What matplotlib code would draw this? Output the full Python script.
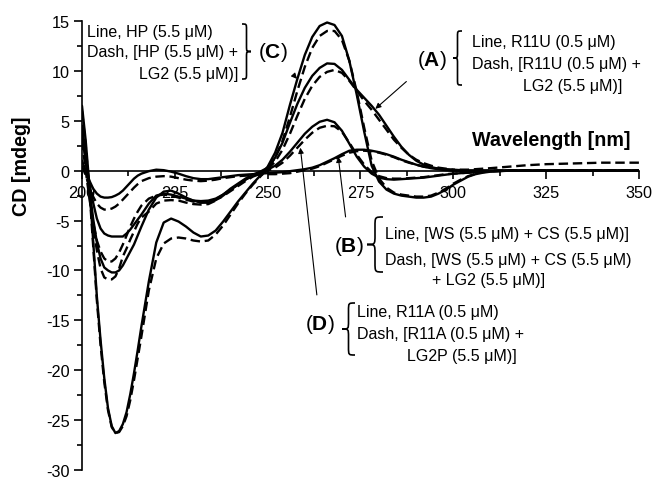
import numpy as np
import matplotlib
matplotlib.use('Agg')
import matplotlib.pyplot as plt
from matplotlib.path import Path
from matplotlib.patches import PathPatch
from matplotlib.ticker import MultipleLocator

plt.rcParams['font.family'] = ['Liberation Sans', 'DejaVu Sans']
plt.rcParams['axes.unicode_minus'] = False
plt.rcParams['mathtext.fontset'] = 'custom'
plt.rcParams['mathtext.rm'] = 'Liberation Sans'
plt.rcParams['mathtext.bf'] = 'Liberation Sans:bold'

# wavelength grid [nm]
wl = ([200, 201, 202, 203, 204, 205, 206, 207, 208, 209, 210, 211, 212, 213, 214, 215, 216]
      + list(range(218, 311, 2)) + [315, 320, 325, 330, 335, 340, 345, 350])

# (C) HP
hp_line = [6.5, 3.0, -1.5, -7.0, -12.6, -17.0, -20.8, -23.8, -25.6, -26.3, -26.1, -25.4, -24.2, -22.4, -20.3, -18.0, -15.6,
           -11.1, -7.2, -5.2, -4.8, -5.1, -5.6, -6.2, -6.6, -6.5, -6.0, -5.1, -4.1, -3.1, -2.2, -1.3, -0.5,
           0.4, 1.8, 3.8, 6.6, 9.2, 11.6, 13.4, 14.5, 14.85, 14.6, 13.5, 11.0, 7.6, 3.9, 0.5, -1.1,
           -1.9, -2.3, -2.5, -2.6, -2.7, -2.7, -2.6, -2.3, -1.9, -1.4, -1.0, -0.6, -0.35, -0.2, -0.1,
           0, 0, 0, 0, 0, 0, 0, 0]
hp_dash = [6.0, 2.5, -2.0, -7.5, -13.0, -17.5, -21.2, -24.0, -25.7, -26.3, -26.2, -25.6, -24.6, -23.0, -21.0, -18.8, -16.6,
           -12.0, -8.8, -7.3, -6.8, -6.7, -6.8, -7.0, -7.1, -7.0, -6.4, -5.5, -4.4, -3.3, -2.3, -1.4, -0.6,
           0.2, 1.3, 3.0, 5.4, 8.0, 10.4, 12.3, 13.5, 14.0, 14.0, 13.1, 11.0, 7.9, 4.3, 1.0, -0.8,
           -1.7, -2.2, -2.4, -2.5, -2.6, -2.6, -2.5, -2.2, -1.8, -1.3, -0.9, -0.55, -0.3, -0.15, -0.05,
           0, 0, 0, 0, 0, 0, 0, 0]

# (A) R11U
r11u_line = [4.5, 1.5, -1.8, -4.8, -7.2, -8.8, -9.7, -10.0, -10.2, -10.2, -10.0, -9.5, -8.8, -8.1, -7.4, -6.5, -5.6,
             -3.9, -2.7, -2.1, -2.0, -2.3, -2.7, -3.0, -3.2, -3.2, -2.9, -2.4, -1.8, -1.3, -0.8, -0.4, -0.1,
             0.3, 1.3, 2.8, 4.8, 6.7, 8.3, 9.5, 10.3, 10.75, 10.7, 10.1, 9.1, 8.1, 7.3, 6.5, 5.6,
             4.5, 3.4, 2.4, 1.6, 1.0, 0.6, 0.35, 0.2, 0.1, 0.05, 0, 0, 0, 0, 0,
             0, 0, 0, 0, 0, 0, 0, 0]
r11u_dash = [4.0, 1.0, -2.5, -5.5, -8.0, -9.8, -10.7, -10.9, -10.9, -10.6, -9.8, -8.6, -7.8, -6.9, -6.1, -5.3, -4.7,
             -4.1, -3.3, -3.0, -2.95, -3.0, -3.2, -3.35, -3.4, -3.35, -3.0, -2.5, -1.9, -1.4, -0.9, -0.5, -0.15,
             0.15, 0.9, 2.1, 3.7, 5.5, 7.2, 8.5, 9.4, 9.9, 10.1, 9.8, 9.0, 8.0, 7.0, 6.1, 5.1,
             4.1, 3.1, 2.3, 1.6, 1.1, 0.75, 0.5, 0.3, 0.2, 0.1, 0.05, 0, 0, 0, 0,
             0, 0, 0, 0, 0, 0, 0, 0]

# (D) R11A
r11a_line = [3.5, 1.0, -1.3, -3.2, -4.8, -5.8, -6.3, -6.5, -6.6, -6.6, -6.6, -6.6, -6.3, -5.9, -5.4, -4.9, -4.4,
             -3.3, -2.5, -2.3, -2.4, -2.6, -2.8, -3.0, -3.05, -3.0, -2.8, -2.4, -1.9, -1.4, -0.9, -0.5, -0.2,
             0.1, 0.5, 1.1, 1.9, 2.8, 3.7, 4.4, 4.9, 5.1, 4.85, 4.0, 2.7, 1.4, 0.4, -0.3, -0.7,
             -0.85, -0.9, -0.85, -0.8, -0.75, -0.7, -0.6, -0.5, -0.4, -0.3, -0.25, -0.2, -0.15, -0.1, -0.05,
             0, 0, 0, 0, 0, 0, 0, 0]
r11a_dash = [3.0, 0.0, -2.8, -5.2, -7.0, -8.1, -8.8, -9.1, -9.1, -8.8, -8.2, -7.4, -6.5, -5.6, -4.8, -4.1, -3.5,
             -2.8, -2.5, -2.4, -2.5, -2.7, -2.9, -3.1, -3.2, -3.15, -2.95, -2.55, -2.05, -1.55, -1.05, -0.6, -0.3,
             0.0, 0.3, 0.8, 1.5, 2.3, 3.1, 3.8, 4.3, 4.5, 4.45, 3.9, 2.8, 1.6, 0.6, -0.15, -0.55,
             -0.75, -0.8, -0.8, -0.75, -0.7, -0.65, -0.55, -0.45, -0.35, -0.3, -0.25, -0.2, -0.15, -0.1, -0.05,
             0, 0, 0, 0, 0, 0, 0, 0]

# (B) WS + CS
wscs_line = [1.0, 0.0, -1.0, -1.8, -2.3, -2.6, -2.7, -2.7, -2.65, -2.5, -2.3, -2.0, -1.6, -1.2, -0.8, -0.5, -0.3,
             -0.05, 0.1, 0.05, -0.1, -0.3, -0.55, -0.75, -0.85, -0.85, -0.75, -0.65, -0.55, -0.45, -0.4, -0.35, -0.3,
             -0.25, -0.2, -0.15, -0.05, 0.05, 0.15, 0.3, 0.55, 0.9, 1.25, 1.65, 2.0, 2.1, 2.1, 2.0, 1.85,
             1.65, 1.4, 1.1, 0.85, 0.6, 0.4, 0.25, 0.15, 0.05, 0, 0, 0, 0, 0, 0,
             0, 0, 0, 0, 0, 0, 0, 0]
wscs_dash = [0.5, -0.5, -1.6, -2.6, -3.3, -3.7, -3.9, -3.9, -3.8, -3.6, -3.3, -2.9, -2.5, -2.1, -1.7, -1.35, -1.05,
             -0.75, -0.6, -0.55, -0.6, -0.75, -0.9, -1.0, -1.05, -1.0, -0.9, -0.75, -0.65, -0.55, -0.5, -0.45, -0.4,
             -0.35, -0.35, -0.3, -0.25, -0.1, 0.05, 0.2, 0.45, 0.8, 1.15, 1.5, 1.8, 1.95, 2.0, 1.95, 1.8,
             1.6, 1.35, 1.05, 0.8, 0.6, 0.4, 0.3, 0.2, 0.15, 0.1, 0.1, 0.1, 0.15, 0.2, 0.25,
             0.4, 0.55, 0.65, 0.7, 0.75, 0.8, 0.8, 0.8]

W, H = 655, 481


def fpx(x, y):
    # figure pixel -> figure fraction
    return (x / W, 1 - y / H)


def brace(fig, x_tip, x_end, top, bot, lw=1.2):
    # curly brace; tip side at x_tip, arm ends at x_end (pixels)
    xm = (x_tip + x_end) / 2
    mid = (top + bot) / 2
    r = abs(x_end - x_tip) * 0.6
    pts = [(x_end, top), (xm, top), (xm, top), (xm, top + r),
           (xm, mid - r),
           (xm, mid), (xm, mid), (x_tip, mid),
           (xm, mid), (xm, mid), (xm, mid + r),
           (xm, bot - r),
           (xm, bot), (xm, bot), (x_end, bot)]
    codes = [Path.MOVETO, Path.CURVE4, Path.CURVE4, Path.CURVE4,
             Path.LINETO,
             Path.CURVE4, Path.CURVE4, Path.CURVE4,
             Path.CURVE4, Path.CURVE4, Path.CURVE4,
             Path.LINETO,
             Path.CURVE4, Path.CURVE4, Path.CURVE4]
    path = Path([fpx(*p) for p in pts], codes)
    fig.add_artist(PathPatch(path, fill=False, lw=lw, color='k', transform=fig.transFigure))


fig = plt.figure(figsize=(6.55, 4.81), dpi=100)
ax = fig.add_axes([82 / W, 1 - 471 / H, (639 - 82) / W, (471 - 22) / H])

lw = 1.7
for line, dash in [(hp_line, hp_dash), (r11u_line, r11u_dash), (r11a_line, r11a_dash), (wscs_line, wscs_dash)]:
    ax.plot(wl, line, color='k', lw=lw, solid_capstyle='round')
    ax.plot(wl, dash, color='k', lw=lw, dashes=(4, 2))

ax.set_xlim(200, 350)
ax.set_ylim(-30, 15)
ax.spines['right'].set_visible(False)
ax.spines['top'].set_visible(False)
ax.spines['bottom'].set_position(('data', 0))
ax.spines['left'].set_linewidth(1.2)
ax.spines['bottom'].set_linewidth(1.2)
ax.xaxis.set_major_locator(MultipleLocator(25))
ax.xaxis.set_minor_locator(MultipleLocator(12.5))
ax.yaxis.set_major_locator(MultipleLocator(5))
ax.yaxis.set_minor_locator(MultipleLocator(2.5))
ax.tick_params(which='major', direction='out', length=6, width=1.2, labelsize=11.7, pad=3)
ax.tick_params(which='minor', direction='out', length=3.5, width=1.2)
ax.tick_params(axis='x', which='major', pad=4)

fs = 11.5
lfs = 15
arrow = dict(arrowstyle='-|>', lw=0.8, color='k', mutation_scale=8, shrinkB=0)

# (C) block
fig.text(*fpx(87, 32), 'Line, HP (5.5 μM)', fontsize=fs, va='center', ha='left')
fig.text(*fpx(87, 53), 'Dash, [HP (5.5 μM) +', fontsize=fs, va='center', ha='left')
fig.text(*fpx(238, 74), 'LG2 (5.5 μM)]', fontsize=fs, va='center', ha='right')
brace(fig, 251, 242, 25, 80)
ax.annotate(r'($\mathbf{C}$)', xy=(257.9, 9.2), xycoords='data',
            xytext=fpx(273, 53), textcoords='figure fraction', fontsize=lfs, ha='center', va='center',
            arrowprops=dict(arrow, shrinkA=9))

# (A) block
fig.text(*fpx(472, 43), 'Line, R11U (0.5 μM)', fontsize=fs, va='center', ha='left')
fig.text(*fpx(472, 65), 'Dash, [R11U (0.5 μM) +', fontsize=fs, va='center', ha='left')
fig.text(*fpx(523, 86), 'LG2 (5.5 μM)]', fontsize=fs, va='center', ha='left')
brace(fig, 453, 462, 32, 86)
ax.annotate(r'($\mathbf{A}$)', xy=(279, 6.2), xycoords='data',
            xytext=fpx(432, 60), textcoords='figure fraction', fontsize=lfs, ha='center', va='center',
            arrowprops=dict(arrow, shrinkA=9))

# (B) block
fig.text(*fpx(385, 235), 'Line, [WS (5.5 μM) + CS (5.5 μM)]', fontsize=fs, va='center', ha='left')
fig.text(*fpx(385, 260), 'Dash, [WS (5.5 μM) + CS (5.5 μM)', fontsize=fs, va='center', ha='left')
fig.text(*fpx(432, 281), '+ LG2 (5.5 μM)]', fontsize=fs, va='center', ha='left')
brace(fig, 367, 383, 218, 273)
ax.annotate(r'($\mathbf{B}$)', xy=(269, 1.4), xycoords='data',
            xytext=fpx(349, 246), textcoords='figure fraction', fontsize=lfs, ha='center', va='center',
            arrowprops=dict(arrow, shrinkA=10))

# (D) block
fig.text(*fpx(357, 312), 'Line, R11A (0.5 μM)', fontsize=fs, va='center', ha='left')
fig.text(*fpx(357, 335), 'Dash, [R11A (0.5 μM) +', fontsize=fs, va='center', ha='left')
fig.text(*fpx(407, 357), 'LG2P (5.5 μM)]', fontsize=fs, va='center', ha='left')
brace(fig, 342, 355, 304, 356)
ax.annotate(r'($\mathbf{D}$)', xy=(258.8, 2.3), xycoords='data',
            xytext=fpx(320, 324), textcoords='figure fraction', fontsize=lfs, ha='center', va='center',
            arrowprops=dict(arrow, shrinkA=10))

fig.text(*fpx(630, 140), 'Wavelength [nm]', fontsize=14.2, fontweight='bold', ha='right', va='center')
fig.text(*fpx(22, 166), 'CD [mdeg]', fontsize=14.2, fontweight='bold', ha='center', va='center', rotation=90)

fig.savefig('out.png', dpi=100)
